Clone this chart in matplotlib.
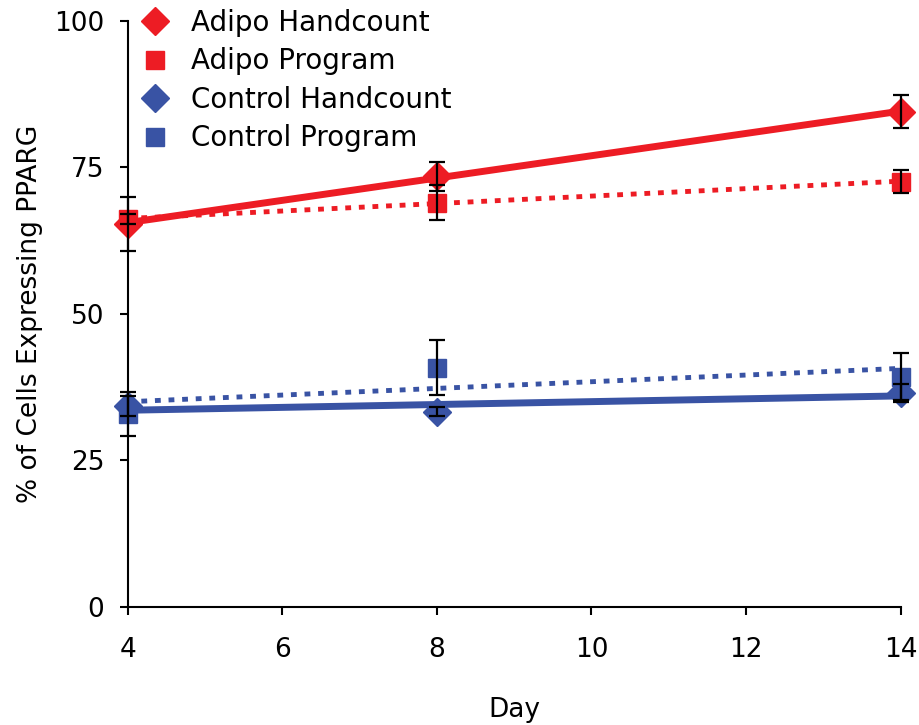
import matplotlib
matplotlib.use("Agg")
import matplotlib.pyplot as plt
import numpy as np

# data
days = np.array([4, 8, 14])
adipo_hand = np.array([65.4, 73.5, 84.5])
adipo_hand_err = np.array([4.6, 2.5, 2.8])
adipo_prog = np.array([66.2, 69.0, 72.6])
adipo_prog_err = np.array([0.8, 3.0, 1.9])
ctrl_hand = np.array([34.3, 33.3, 36.5])
ctrl_hand_err = np.array([1.7, 0.8, 1.5])
ctrl_prog = np.array([32.9, 40.8, 39.3])
ctrl_prog_err = np.array([3.7, 4.7, 4.0])

red = "#ED1C24"
blue = "#3953A4"

fig = plt.figure(figsize=(9.19, 7.25), dpi=100)
ax = fig.add_axes([0.139, 0.163, 0.841, 0.808])

series = [
    ("Adipo Handcount", adipo_hand, adipo_hand_err, red, "D", "-"),
    ("Adipo Program", adipo_prog, adipo_prog_err, red, "s", (0, (1.2, 1.6))),
    ("Control Handcount", ctrl_hand, ctrl_hand_err, blue, "D", "-"),
    ("Control Program", ctrl_prog, ctrl_prog_err, blue, "s", (0, (1.2, 1.6))),
]

xfit = np.array([days.min(), days.max()])
for name, y, err, col, mk, ls in series:
    ms = 14 if mk == "D" else 13
    ax.plot(days, y, linestyle="none", marker=mk, color=col, markersize=ms,
            label=name, zorder=3)
    # linear trend line
    k, b = np.polyfit(days, y, 1)
    lw = 5 if ls == "-" else 3.5
    ax.plot(xfit, k * xfit + b, color=col, linestyle=ls, linewidth=lw,
            solid_capstyle="butt", dash_capstyle="butt", zorder=2)
    ax.errorbar(days, y, yerr=err, fmt="none", ecolor="black", elinewidth=1.6,
                capsize=6, capthick=1.6, zorder=4)

ax.set_xlim(4, 14)
ax.set_ylim(0, 100)
ax.set_xticks([4, 6, 8, 10, 12, 14])
ax.set_yticks([0, 25, 50, 75, 100])
ax.spines["top"].set_visible(False)
ax.spines["right"].set_visible(False)
ax.spines["left"].set_linewidth(1.5)
ax.spines["bottom"].set_linewidth(1.5)
ax.tick_params(direction="out", length=6, width=1.5, labelsize=19)
ax.tick_params(axis="x", pad=16)
ax.tick_params(axis="y", pad=11)
for a in ax.get_children():
    try:
        a.set_clip_on(False)
    except Exception:
        pass

ax.set_xlabel("Day", fontsize=19, labelpad=24)
ax.set_ylabel("% of Cells Expressing PPARG", fontsize=19, labelpad=8)

ax.legend(loc="upper left", bbox_to_anchor=(0.003, 1.04), frameon=False,
          fontsize=20, handlelength=1.0, handletextpad=0.8, labelspacing=0.38,
          borderaxespad=0)

fig.savefig("out.png", dpi=100)
